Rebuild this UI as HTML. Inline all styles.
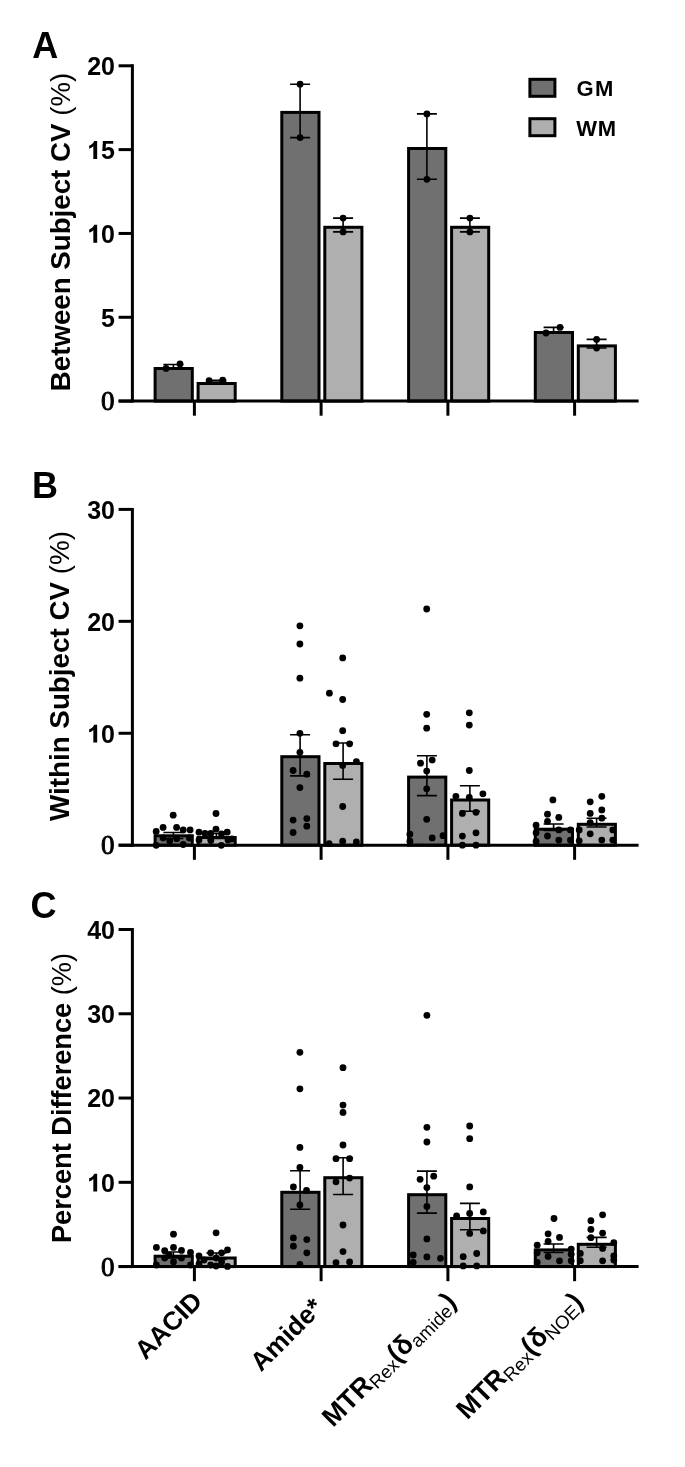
<!DOCTYPE html>
<html><head><meta charset="utf-8"><style>
html,body{margin:0;padding:0;background:#fff;}
svg{display:block;font-family:"Liberation Sans", sans-serif;will-change:transform;}
</style></head><body>
<div id="w"><svg width="685" height="1467" viewBox="0 0 685 1467" fill="#000">
<rect width="685" height="1467" fill="#fff"/>
<rect x="155.1" y="368.5" width="37.2" height="32.6" fill="#707070" stroke="#000" stroke-width="3"/>
<rect x="198.1" y="383.5" width="37.1" height="17.6" fill="#afafaf" stroke="#000" stroke-width="3"/>
<rect x="281.8" y="112.4" width="37.2" height="288.7" fill="#707070" stroke="#000" stroke-width="3"/>
<rect x="324.8" y="227.3" width="37.1" height="173.8" fill="#afafaf" stroke="#000" stroke-width="3"/>
<rect x="408.6" y="148.5" width="37.2" height="252.6" fill="#707070" stroke="#000" stroke-width="3"/>
<rect x="451.6" y="227.3" width="37.1" height="173.8" fill="#afafaf" stroke="#000" stroke-width="3"/>
<rect x="535.3" y="332.5" width="37.2" height="68.6" fill="#707070" stroke="#000" stroke-width="3"/>
<rect x="578.3" y="345.9" width="37.1" height="55.2" fill="#afafaf" stroke="#000" stroke-width="3"/>
<path d="M173.4 364.5V368.5M163.4 364.5H183.4M163.4 368.5H183.4" stroke="#000" stroke-width="1.6" fill="none"/>
<path d="M216.4 380.2V380.9M206.4 380.2H226.4M206.4 380.9H226.4" stroke="#000" stroke-width="1.6" fill="none"/>
<path d="M300.1 84.2V137.6M290.1 84.2H310.1M290.1 137.6H310.1" stroke="#000" stroke-width="1.6" fill="none"/>
<path d="M343.1 218.1V231.9M333.1 218.1H353.1M333.1 231.9H353.1" stroke="#000" stroke-width="1.6" fill="none"/>
<path d="M426.9 113.9V179.3M416.9 113.9H436.9M416.9 179.3H436.9" stroke="#000" stroke-width="1.6" fill="none"/>
<path d="M469.9 218.1V231.9M459.9 218.1H479.9M459.9 231.9H479.9" stroke="#000" stroke-width="1.6" fill="none"/>
<path d="M553.6 327.4V333M543.6 327.4H563.6M543.6 333H563.6" stroke="#000" stroke-width="1.6" fill="none"/>
<path d="M596.6 339.4V348M586.6 339.4H606.6M586.6 348H606.6" stroke="#000" stroke-width="1.6" fill="none"/>
<circle cx="166" cy="368.4" r="3.4"/>
<circle cx="180" cy="364" r="3.4"/>
<circle cx="209.1" cy="380.7" r="3.4"/>
<circle cx="222.7" cy="380.2" r="3.4"/>
<circle cx="300.1" cy="84.2" r="3.4"/>
<circle cx="300.1" cy="137.6" r="3.4"/>
<circle cx="343.1" cy="218.1" r="3.4"/>
<circle cx="343.1" cy="231.9" r="3.4"/>
<circle cx="426.9" cy="113.9" r="3.4"/>
<circle cx="426.9" cy="179.3" r="3.4"/>
<circle cx="469.9" cy="218.1" r="3.4"/>
<circle cx="469.9" cy="231.9" r="3.4"/>
<circle cx="546" cy="333" r="3.4"/>
<circle cx="560" cy="327.4" r="3.4"/>
<circle cx="596.6" cy="339.4" r="3.4"/>
<circle cx="596.6" cy="348" r="3.4"/>
<path d="M132.4 64.3V402.6" stroke="#000" stroke-width="3.0"/>
<path d="M118.6 401.1H638.6" stroke="#000" stroke-width="3.0"/>
<path d="M118.6 401.1H132.4" stroke="#000" stroke-width="3.0"/>
<text x="114.6" y="401.1" dy="0.34em" text-anchor="end" font-family="Liberation Serif, serif" font-size="27" font-weight="normal" stroke="#000" stroke-width="0.9">0</text>
<path d="M118.6 317.28H132.4" stroke="#000" stroke-width="3.0"/>
<text x="101.1" y="326.58" font-size="25" font-weight="bold">5</text>
<path d="M118.6 233.45H132.4" stroke="#000" stroke-width="3.0"/>
<path transform="translate(87.2 242.75) scale(0.02500 -0.02500)" d="M400 0L245 0L245 505C197 462 147 432 79 408L79 532C115 544 154 565 196 597C238 630 268 670 283 716L398 716Z"/><text x="101.1" y="242.75" font-size="25" font-weight="bold">0</text>
<path d="M118.6 149.62H132.4" stroke="#000" stroke-width="3.0"/>
<path transform="translate(87.2 158.93) scale(0.02500 -0.02500)" d="M400 0L245 0L245 505C197 462 147 432 79 408L79 532C115 544 154 565 196 597C238 630 268 670 283 716L398 716Z"/><text x="101.1" y="158.93" font-size="25" font-weight="bold">5</text>
<path d="M118.6 65.8H132.4" stroke="#000" stroke-width="3.0"/>
<text x="87.2" y="75.1" font-size="25" font-weight="bold">2</text><text x="101.1" y="75.1" font-size="25" font-weight="bold">0</text>
<path d="M194.4 401.1V415.7" stroke="#000" stroke-width="3.0"/>
<path d="M321.1 401.1V415.7" stroke="#000" stroke-width="3.0"/>
<path d="M447.9 401.1V415.7" stroke="#000" stroke-width="3.0"/>
<path d="M574.6 401.1V415.7" stroke="#000" stroke-width="3.0"/>
<text transform="translate(59.7 232) rotate(-90)" text-anchor="middle" dy="0.36em" font-size="27.7" font-weight="bold">Between Subject CV <tspan font-weight="normal">(%)</tspan></text>
<text x="32.2" y="57.5" font-size="36" font-weight="bold">A</text>
<rect x="155.1" y="835.8" width="37.2" height="9.4" fill="#707070" stroke="#000" stroke-width="3"/>
<rect x="198.1" y="837.5" width="37.1" height="7.7" fill="#afafaf" stroke="#000" stroke-width="3"/>
<rect x="281.8" y="756.7" width="37.2" height="88.5" fill="#707070" stroke="#000" stroke-width="3"/>
<rect x="324.8" y="763.5" width="37.1" height="81.7" fill="#afafaf" stroke="#000" stroke-width="3"/>
<rect x="408.6" y="777.1" width="37.2" height="68.1" fill="#707070" stroke="#000" stroke-width="3"/>
<rect x="451.6" y="800" width="37.1" height="45.2" fill="#afafaf" stroke="#000" stroke-width="3"/>
<rect x="535.3" y="829.2" width="37.2" height="16" fill="#707070" stroke="#000" stroke-width="3"/>
<rect x="578.3" y="824.3" width="37.1" height="20.9" fill="#afafaf" stroke="#000" stroke-width="3"/>
<path d="M173.4 832.5V838.5M163.4 832.5H183.4M163.4 838.5H183.4" stroke="#000" stroke-width="1.6" fill="none"/>
<path d="M216.4 833.5V838.5M206.4 833.5H226.4M206.4 838.5H226.4" stroke="#000" stroke-width="1.6" fill="none"/>
<path d="M300.1 734.7V775.9M290.1 734.7H310.1M290.1 775.9H310.1" stroke="#000" stroke-width="1.6" fill="none"/>
<path d="M343.1 743V779.3M333.1 743H353.1M333.1 779.3H353.1" stroke="#000" stroke-width="1.6" fill="none"/>
<path d="M426.9 755.8V795.6M416.9 755.8H436.9M416.9 795.6H436.9" stroke="#000" stroke-width="1.6" fill="none"/>
<path d="M469.9 785.8V811.3M459.9 785.8H479.9M459.9 811.3H479.9" stroke="#000" stroke-width="1.6" fill="none"/>
<path d="M553.6 824V830.5M543.6 824H563.6M543.6 830.5H563.6" stroke="#000" stroke-width="1.6" fill="none"/>
<path d="M596.6 818.2V827M586.6 818.2H606.6M586.6 827H606.6" stroke="#000" stroke-width="1.6" fill="none"/>
<circle cx="173.2" cy="815.2" r="3.4"/>
<circle cx="163.1" cy="827.4" r="3.4"/>
<circle cx="176.6" cy="827.4" r="3.4"/>
<circle cx="183.2" cy="829.9" r="3.4"/>
<circle cx="190.1" cy="829.9" r="3.4"/>
<circle cx="156.2" cy="831.4" r="3.4"/>
<circle cx="169.7" cy="840.9" r="3.4"/>
<circle cx="176.6" cy="838.7" r="3.4"/>
<circle cx="156.2" cy="845.3" r="3.4"/>
<circle cx="183.2" cy="844.5" r="3.4"/>
<circle cx="189.4" cy="838" r="3.4"/>
<circle cx="163.1" cy="838" r="3.4"/>
<circle cx="216" cy="813.5" r="3.4"/>
<circle cx="216" cy="829.2" r="3.4"/>
<circle cx="199" cy="832.2" r="3.4"/>
<circle cx="227.2" cy="832.2" r="3.4"/>
<circle cx="221.3" cy="845.3" r="3.4"/>
<circle cx="199" cy="840" r="3.4"/>
<circle cx="210.8" cy="840.5" r="3.4"/>
<circle cx="228" cy="840" r="3.4"/>
<circle cx="205" cy="833.5" r="3.4"/>
<circle cx="210.8" cy="833.5" r="3.4"/>
<circle cx="221.5" cy="834" r="3.4"/>
<circle cx="232" cy="839" r="3.4"/>
<circle cx="299.9" cy="625.8" r="3.4"/>
<circle cx="299.9" cy="644" r="3.4"/>
<circle cx="299.9" cy="678.2" r="3.4"/>
<circle cx="299.9" cy="733.3" r="3.4"/>
<circle cx="299.9" cy="752.3" r="3.4"/>
<circle cx="293.1" cy="770.5" r="3.4"/>
<circle cx="306.8" cy="774.2" r="3.4"/>
<circle cx="299.9" cy="787.6" r="3.4"/>
<circle cx="293.1" cy="820.1" r="3.4"/>
<circle cx="306.8" cy="818.6" r="3.4"/>
<circle cx="306.8" cy="826.2" r="3.4"/>
<circle cx="293.1" cy="832.5" r="3.4"/>
<circle cx="342.7" cy="657.9" r="3.4"/>
<circle cx="329.4" cy="693.2" r="3.4"/>
<circle cx="342.7" cy="699.5" r="3.4"/>
<circle cx="342.7" cy="730.7" r="3.4"/>
<circle cx="336" cy="743.8" r="3.4"/>
<circle cx="349.6" cy="743.8" r="3.4"/>
<circle cx="356.4" cy="761.6" r="3.4"/>
<circle cx="342.7" cy="765.4" r="3.4"/>
<circle cx="342.7" cy="806.5" r="3.4"/>
<circle cx="329.1" cy="843.7" r="3.4"/>
<circle cx="342.7" cy="841.2" r="3.4"/>
<circle cx="356.4" cy="842" r="3.4"/>
<circle cx="426.7" cy="609" r="3.4"/>
<circle cx="426.7" cy="714.3" r="3.4"/>
<circle cx="426.7" cy="728.2" r="3.4"/>
<circle cx="432.2" cy="760.1" r="3.4"/>
<circle cx="420.5" cy="763.2" r="3.4"/>
<circle cx="426.7" cy="771.1" r="3.4"/>
<circle cx="426.7" cy="788.8" r="3.4"/>
<circle cx="426.7" cy="819.3" r="3.4"/>
<circle cx="409.9" cy="834.2" r="3.4"/>
<circle cx="409.9" cy="841.2" r="3.4"/>
<circle cx="432.2" cy="837.9" r="3.4"/>
<circle cx="443" cy="835.7" r="3.4"/>
<circle cx="469.3" cy="712.8" r="3.4"/>
<circle cx="469.3" cy="725.1" r="3.4"/>
<circle cx="469.3" cy="770.5" r="3.4"/>
<circle cx="455.9" cy="796.3" r="3.4"/>
<circle cx="469.3" cy="797.4" r="3.4"/>
<circle cx="482.9" cy="793.8" r="3.4"/>
<circle cx="462.4" cy="813.4" r="3.4"/>
<circle cx="476" cy="812.3" r="3.4"/>
<circle cx="462.4" cy="836.1" r="3.4"/>
<circle cx="476" cy="832.8" r="3.4"/>
<circle cx="462.4" cy="845.2" r="3.4"/>
<circle cx="476" cy="845.2" r="3.4"/>
<circle cx="552.9" cy="799.9" r="3.4"/>
<circle cx="547.5" cy="814.2" r="3.4"/>
<circle cx="558.8" cy="817.4" r="3.4"/>
<circle cx="547.5" cy="821.4" r="3.4"/>
<circle cx="536.1" cy="825.2" r="3.4"/>
<circle cx="558.8" cy="829.9" r="3.4"/>
<circle cx="570.4" cy="829.9" r="3.4"/>
<circle cx="547.5" cy="836" r="3.4"/>
<circle cx="536.1" cy="841.5" r="3.4"/>
<circle cx="558.8" cy="840.1" r="3.4"/>
<circle cx="570.4" cy="840.1" r="3.4"/>
<circle cx="536.1" cy="832.8" r="3.4"/>
<circle cx="601.8" cy="796.3" r="3.4"/>
<circle cx="590.2" cy="801.8" r="3.4"/>
<circle cx="601.8" cy="809.9" r="3.4"/>
<circle cx="590.2" cy="813.4" r="3.4"/>
<circle cx="601.8" cy="818.2" r="3.4"/>
<circle cx="590.2" cy="822.6" r="3.4"/>
<circle cx="579.2" cy="829.9" r="3.4"/>
<circle cx="612.8" cy="829.9" r="3.4"/>
<circle cx="590.2" cy="833.8" r="3.4"/>
<circle cx="579.2" cy="840.8" r="3.4"/>
<circle cx="601.8" cy="840.1" r="3.4"/>
<circle cx="612.8" cy="840.1" r="3.4"/>
<path d="M132.4 507.9V846.7" stroke="#000" stroke-width="3.0"/>
<path d="M118.6 845.2H638.6" stroke="#000" stroke-width="3.0"/>
<path d="M118.6 845.2H132.4" stroke="#000" stroke-width="3.0"/>
<text x="114.6" y="845.2" dy="0.34em" text-anchor="end" font-family="Liberation Serif, serif" font-size="27" font-weight="normal" stroke="#000" stroke-width="0.9">0</text>
<path d="M118.6 733.27H132.4" stroke="#000" stroke-width="3.0"/>
<path transform="translate(87.2 742.57) scale(0.02500 -0.02500)" d="M400 0L245 0L245 505C197 462 147 432 79 408L79 532C115 544 154 565 196 597C238 630 268 670 283 716L398 716Z"/><text x="101.1" y="742.57" font-size="25" font-weight="bold">0</text>
<path d="M118.6 621.33H132.4" stroke="#000" stroke-width="3.0"/>
<text x="87.2" y="630.63" font-size="25" font-weight="bold">2</text><text x="101.1" y="630.63" font-size="25" font-weight="bold">0</text>
<path d="M118.6 509.4H132.4" stroke="#000" stroke-width="3.0"/>
<text x="87.2" y="518.7" font-size="25" font-weight="bold">3</text><text x="101.1" y="518.7" font-size="25" font-weight="bold">0</text>
<path d="M194.4 845.2V859.8" stroke="#000" stroke-width="3.0"/>
<path d="M321.1 845.2V859.8" stroke="#000" stroke-width="3.0"/>
<path d="M447.9 845.2V859.8" stroke="#000" stroke-width="3.0"/>
<path d="M574.6 845.2V859.8" stroke="#000" stroke-width="3.0"/>
<text transform="translate(59.2 676) rotate(-90)" text-anchor="middle" dy="0.36em" font-size="27.8" font-weight="bold">Within Subject CV <tspan font-weight="normal">(%)</tspan></text>
<text x="31.9" y="498" font-size="36" font-weight="bold">B</text>
<rect x="155.1" y="1256.2" width="37.2" height="10.4" fill="#707070" stroke="#000" stroke-width="3"/>
<rect x="198.1" y="1258" width="37.1" height="8.6" fill="#afafaf" stroke="#000" stroke-width="3"/>
<rect x="281.8" y="1192.3" width="37.2" height="74.3" fill="#707070" stroke="#000" stroke-width="3"/>
<rect x="324.8" y="1177.7" width="37.1" height="88.9" fill="#afafaf" stroke="#000" stroke-width="3"/>
<rect x="408.6" y="1194.7" width="37.2" height="71.9" fill="#707070" stroke="#000" stroke-width="3"/>
<rect x="451.6" y="1218.5" width="37.1" height="48.1" fill="#afafaf" stroke="#000" stroke-width="3"/>
<rect x="535.3" y="1249.9" width="37.2" height="16.7" fill="#707070" stroke="#000" stroke-width="3"/>
<rect x="578.3" y="1244.3" width="37.1" height="22.3" fill="#afafaf" stroke="#000" stroke-width="3"/>
<path d="M173.4 1252V1258M163.4 1252H183.4M163.4 1258H183.4" stroke="#000" stroke-width="1.6" fill="none"/>
<path d="M216.4 1253V1259.5M206.4 1253H226.4M206.4 1259.5H226.4" stroke="#000" stroke-width="1.6" fill="none"/>
<path d="M300.1 1170.8V1209.3M290.1 1170.8H310.1M290.1 1209.3H310.1" stroke="#000" stroke-width="1.6" fill="none"/>
<path d="M343.1 1157.7V1194.5M333.1 1157.7H353.1M333.1 1194.5H353.1" stroke="#000" stroke-width="1.6" fill="none"/>
<path d="M426.9 1171.1V1213.1M416.9 1171.1H436.9M416.9 1213.1H436.9" stroke="#000" stroke-width="1.6" fill="none"/>
<path d="M469.9 1203.4V1229.7M459.9 1203.4H479.9M459.9 1229.7H479.9" stroke="#000" stroke-width="1.6" fill="none"/>
<path d="M553.6 1244V1252.5M543.6 1244H563.6M543.6 1252.5H563.6" stroke="#000" stroke-width="1.6" fill="none"/>
<path d="M596.6 1237.4V1247.3M586.6 1237.4H606.6M586.6 1247.3H606.6" stroke="#000" stroke-width="1.6" fill="none"/>
<circle cx="173.5" cy="1234.2" r="3.4"/>
<circle cx="156.4" cy="1247.4" r="3.4"/>
<circle cx="164.7" cy="1250.7" r="3.4"/>
<circle cx="173.5" cy="1247.4" r="3.4"/>
<circle cx="181.5" cy="1250.4" r="3.4"/>
<circle cx="190.5" cy="1252.4" r="3.4"/>
<circle cx="164.7" cy="1258" r="3.4"/>
<circle cx="173.5" cy="1262" r="3.4"/>
<circle cx="181.5" cy="1258" r="3.4"/>
<circle cx="156.4" cy="1265" r="3.4"/>
<circle cx="190.5" cy="1265" r="3.4"/>
<circle cx="169" cy="1255" r="3.4"/>
<circle cx="216.1" cy="1232.8" r="3.4"/>
<circle cx="227.5" cy="1249.9" r="3.4"/>
<circle cx="210.7" cy="1252.8" r="3.4"/>
<circle cx="221.6" cy="1252.8" r="3.4"/>
<circle cx="199" cy="1255.8" r="3.4"/>
<circle cx="227.5" cy="1266.4" r="3.4"/>
<circle cx="204" cy="1260" r="3.4"/>
<circle cx="216.1" cy="1258" r="3.4"/>
<circle cx="221.6" cy="1262" r="3.4"/>
<circle cx="210.7" cy="1265" r="3.4"/>
<circle cx="199" cy="1264" r="3.4"/>
<circle cx="216.1" cy="1266" r="3.4"/>
<circle cx="299.9" cy="1052.3" r="3.4"/>
<circle cx="299.9" cy="1088.8" r="3.4"/>
<circle cx="299.9" cy="1147.4" r="3.4"/>
<circle cx="299.9" cy="1167.4" r="3.4"/>
<circle cx="293.4" cy="1186.9" r="3.4"/>
<circle cx="306.5" cy="1190.5" r="3.4"/>
<circle cx="299.9" cy="1204.9" r="3.4"/>
<circle cx="293.4" cy="1237.9" r="3.4"/>
<circle cx="306.8" cy="1239.6" r="3.4"/>
<circle cx="293.4" cy="1246.2" r="3.4"/>
<circle cx="306.8" cy="1252.8" r="3.4"/>
<circle cx="299.9" cy="1264.5" r="3.4"/>
<circle cx="343" cy="1067.7" r="3.4"/>
<circle cx="343" cy="1105.1" r="3.4"/>
<circle cx="343" cy="1112.4" r="3.4"/>
<circle cx="343" cy="1145" r="3.4"/>
<circle cx="336" cy="1158.7" r="3.4"/>
<circle cx="349.6" cy="1158.7" r="3.4"/>
<circle cx="336" cy="1181.8" r="3.4"/>
<circle cx="349.6" cy="1178.1" r="3.4"/>
<circle cx="343" cy="1225" r="3.4"/>
<circle cx="343" cy="1251.6" r="3.4"/>
<circle cx="336" cy="1262.6" r="3.4"/>
<circle cx="349.6" cy="1262" r="3.4"/>
<circle cx="426.9" cy="1015.3" r="3.4"/>
<circle cx="426.9" cy="1127.3" r="3.4"/>
<circle cx="426.9" cy="1142" r="3.4"/>
<circle cx="433.7" cy="1176.2" r="3.4"/>
<circle cx="420.1" cy="1179.3" r="3.4"/>
<circle cx="426.9" cy="1187.6" r="3.4"/>
<circle cx="426.9" cy="1206.4" r="3.4"/>
<circle cx="426.9" cy="1238.9" r="3.4"/>
<circle cx="413.2" cy="1255" r="3.4"/>
<circle cx="413.2" cy="1262.3" r="3.4"/>
<circle cx="426.9" cy="1256.9" r="3.4"/>
<circle cx="440.5" cy="1258.3" r="3.4"/>
<circle cx="469.7" cy="1126" r="3.4"/>
<circle cx="469.7" cy="1138.7" r="3.4"/>
<circle cx="469.7" cy="1186.9" r="3.4"/>
<circle cx="456.6" cy="1216" r="3.4"/>
<circle cx="469.7" cy="1213.4" r="3.4"/>
<circle cx="483.3" cy="1211.9" r="3.4"/>
<circle cx="469.7" cy="1233.4" r="3.4"/>
<circle cx="483.3" cy="1230.9" r="3.4"/>
<circle cx="463.2" cy="1256.7" r="3.4"/>
<circle cx="476.7" cy="1253.5" r="3.4"/>
<circle cx="463.2" cy="1265.9" r="3.4"/>
<circle cx="476.7" cy="1265.9" r="3.4"/>
<circle cx="554" cy="1218.5" r="3.4"/>
<circle cx="548.1" cy="1233.8" r="3.4"/>
<circle cx="559.5" cy="1237.4" r="3.4"/>
<circle cx="548.1" cy="1241.4" r="3.4"/>
<circle cx="537.2" cy="1245.2" r="3.4"/>
<circle cx="571.2" cy="1249.1" r="3.4"/>
<circle cx="548.1" cy="1256.4" r="3.4"/>
<circle cx="559.5" cy="1260.8" r="3.4"/>
<circle cx="537.2" cy="1262.3" r="3.4"/>
<circle cx="571.2" cy="1260.8" r="3.4"/>
<circle cx="537.2" cy="1252.8" r="3.4"/>
<circle cx="571.2" cy="1254.2" r="3.4"/>
<circle cx="602.6" cy="1214.8" r="3.4"/>
<circle cx="590.9" cy="1220.7" r="3.4"/>
<circle cx="590.9" cy="1229.4" r="3.4"/>
<circle cx="602.6" cy="1233.1" r="3.4"/>
<circle cx="590.9" cy="1237.7" r="3.4"/>
<circle cx="613.8" cy="1242.6" r="3.4"/>
<circle cx="602.6" cy="1248.4" r="3.4"/>
<circle cx="580.3" cy="1253.4" r="3.4"/>
<circle cx="580.3" cy="1260.7" r="3.4"/>
<circle cx="602.6" cy="1260.8" r="3.4"/>
<circle cx="613.8" cy="1260.1" r="3.4"/>
<circle cx="613.8" cy="1256" r="3.4"/>
<path d="M132.4 928V1268.1" stroke="#000" stroke-width="3.0"/>
<path d="M118.6 1266.6H638.6" stroke="#000" stroke-width="3.0"/>
<path d="M118.6 1266.6H132.4" stroke="#000" stroke-width="3.0"/>
<text x="114.6" y="1266.6" dy="0.34em" text-anchor="end" font-family="Liberation Serif, serif" font-size="27" font-weight="normal" stroke="#000" stroke-width="0.9">0</text>
<path d="M118.6 1182.32H132.4" stroke="#000" stroke-width="3.0"/>
<path transform="translate(87.2 1191.62) scale(0.02500 -0.02500)" d="M400 0L245 0L245 505C197 462 147 432 79 408L79 532C115 544 154 565 196 597C238 630 268 670 283 716L398 716Z"/><text x="101.1" y="1191.62" font-size="25" font-weight="bold">0</text>
<path d="M118.6 1098.05H132.4" stroke="#000" stroke-width="3.0"/>
<text x="87.2" y="1107.35" font-size="25" font-weight="bold">2</text><text x="101.1" y="1107.35" font-size="25" font-weight="bold">0</text>
<path d="M118.6 1013.77H132.4" stroke="#000" stroke-width="3.0"/>
<text x="87.2" y="1023.07" font-size="25" font-weight="bold">3</text><text x="101.1" y="1023.07" font-size="25" font-weight="bold">0</text>
<path d="M118.6 929.5H132.4" stroke="#000" stroke-width="3.0"/>
<text x="87.2" y="938.8" font-size="25" font-weight="bold">4</text><text x="101.1" y="938.8" font-size="25" font-weight="bold">0</text>
<path d="M194.4 1266.6V1281.2" stroke="#000" stroke-width="3.0"/>
<path d="M321.1 1266.6V1281.2" stroke="#000" stroke-width="3.0"/>
<path d="M447.9 1266.6V1281.2" stroke="#000" stroke-width="3.0"/>
<path d="M574.6 1266.6V1281.2" stroke="#000" stroke-width="3.0"/>
<text transform="translate(61.3 1098) rotate(-90)" text-anchor="middle" dy="0.36em" font-size="27.2" font-weight="bold">Percent Difference <tspan font-weight="normal">(%)</tspan></text>
<text x="30.5" y="917.6" font-size="36" font-weight="bold">C</text>
<rect x="529.9" y="79.3" width="25" height="17" fill="#707070" stroke="#000" stroke-width="3"/>
<rect x="529.9" y="118.7" width="25" height="17" fill="#afafaf" stroke="#000" stroke-width="3"/>
<text x="576.6" y="95.6" font-size="22" font-weight="bold" letter-spacing="1.3">GM</text>
<text x="576.3" y="135.5" font-size="22" font-weight="bold" letter-spacing="0.8">WM</text>
<text id="xl0" transform="translate(190.5 1289.2) rotate(-45)" text-anchor="end" dy="0.72em" font-size="26" font-weight="bold">AACID</text>
<text id="xl1" transform="translate(311.2 1295.9) rotate(-45)" text-anchor="end" dy="0.72em" font-size="26" font-weight="bold">Amide*</text>
<text id="xl2" transform="translate(443.8 1289.9) rotate(-45)" text-anchor="end" dy="0.72em" font-size="26.8" font-weight="bold">MTR<tspan font-weight="normal" font-size="18.6" dy="4">Rex</tspan><tspan dy="-4">(δ</tspan><tspan font-weight="normal" font-size="18.6" dy="4">amide</tspan><tspan dy="-4">)</tspan></text>
<text id="xl3" transform="translate(570.6 1289.9) rotate(-45)" text-anchor="end" dy="0.72em" font-size="26.8" font-weight="bold">MTR<tspan font-weight="normal" font-size="18.6" dy="4">Rex</tspan><tspan dy="-4">(δ</tspan><tspan font-weight="normal" font-size="18.6" dy="4">NOE</tspan><tspan dy="-4">)</tspan></text>
</svg></div>
</body></html>
